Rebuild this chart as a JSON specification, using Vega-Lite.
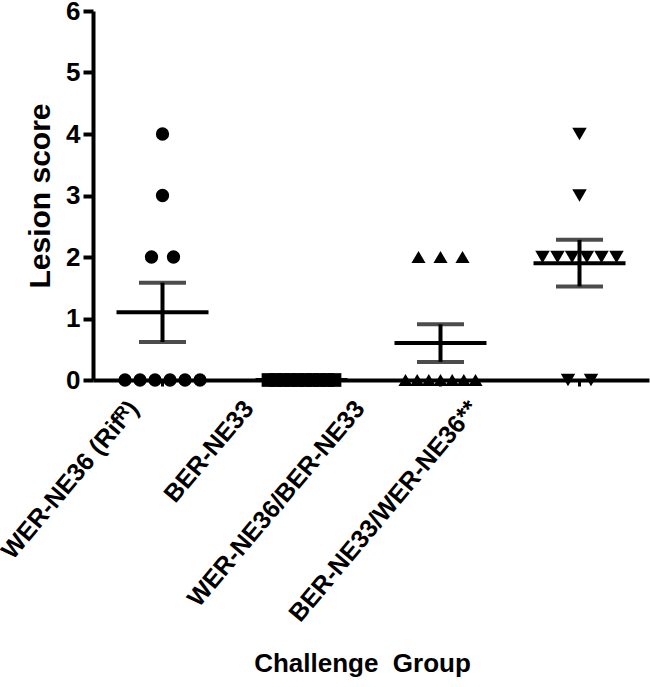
{
  "$schema": "https://vega.github.io/schema/vega-lite/v6.json",
  "autosize": {"type": "none"},
  "padding": {"left": 93, "top": 11, "right": 1, "bottom": 307},
  "width": 556,
  "height": 369,
  "background": "white",
  "config": {
    "view": {"stroke": null},
    "font": "Liberation Sans",
    "axis": {"grid": false, "domainColor": "black", "tickColor": "black", "labelColor": "black", "titleColor": "black", "labelFont": "Liberation Sans", "titleFont": "Liberation Sans", "labelFontWeight": "bold", "titleFontWeight": "bold", "labelLimit": 0}
  },
  "data": {
    "values": [
      {"group": "WER-NE36 (Rifᴿ)", "score": 4, "swarm": 0},
      {"group": "WER-NE36 (Rifᴿ)", "score": 3, "swarm": 0},
      {"group": "WER-NE36 (Rifᴿ)", "score": 2, "swarm": -11},
      {"group": "WER-NE36 (Rifᴿ)", "score": 2, "swarm": 11},
      {"group": "WER-NE36 (Rifᴿ)", "score": 0, "swarm": -37.5},
      {"group": "WER-NE36 (Rifᴿ)", "score": 0, "swarm": -22.5},
      {"group": "WER-NE36 (Rifᴿ)", "score": 0, "swarm": -7.5},
      {"group": "WER-NE36 (Rifᴿ)", "score": 0, "swarm": 7.5},
      {"group": "WER-NE36 (Rifᴿ)", "score": 0, "swarm": 22.5},
      {"group": "WER-NE36 (Rifᴿ)", "score": 0, "swarm": 37.5},
      {"group": "BER-NE33", "score": 0, "swarm": -33},
      {"group": "BER-NE33", "score": 0, "swarm": -25.7},
      {"group": "BER-NE33", "score": 0, "swarm": -18.3},
      {"group": "BER-NE33", "score": 0, "swarm": -11},
      {"group": "BER-NE33", "score": 0, "swarm": -3.7},
      {"group": "BER-NE33", "score": 0, "swarm": 3.7},
      {"group": "BER-NE33", "score": 0, "swarm": 11},
      {"group": "BER-NE33", "score": 0, "swarm": 18.3},
      {"group": "BER-NE33", "score": 0, "swarm": 25.7},
      {"group": "BER-NE33", "score": 0, "swarm": 33},
      {"group": "WER-NE36/BER-NE33", "score": 2, "swarm": -22},
      {"group": "WER-NE36/BER-NE33", "score": 2, "swarm": 0},
      {"group": "WER-NE36/BER-NE33", "score": 2, "swarm": 22},
      {"group": "WER-NE36/BER-NE33", "score": 0, "swarm": -35},
      {"group": "WER-NE36/BER-NE33", "score": 0, "swarm": -23.3},
      {"group": "WER-NE36/BER-NE33", "score": 0, "swarm": -11.7},
      {"group": "WER-NE36/BER-NE33", "score": 0, "swarm": 0},
      {"group": "WER-NE36/BER-NE33", "score": 0, "swarm": 11.7},
      {"group": "WER-NE36/BER-NE33", "score": 0, "swarm": 23.3},
      {"group": "WER-NE36/BER-NE33", "score": 0, "swarm": 35},
      {"group": "BER-NE33/WER-NE36**", "score": 4, "swarm": 0},
      {"group": "BER-NE33/WER-NE36**", "score": 3, "swarm": 0},
      {"group": "BER-NE33/WER-NE36**", "score": 2, "swarm": -37},
      {"group": "BER-NE33/WER-NE36**", "score": 2, "swarm": -22},
      {"group": "BER-NE33/WER-NE36**", "score": 2, "swarm": -7.4},
      {"group": "BER-NE33/WER-NE36**", "score": 2, "swarm": 7.4},
      {"group": "BER-NE33/WER-NE36**", "score": 2, "swarm": 22},
      {"group": "BER-NE33/WER-NE36**", "score": 2, "swarm": 37},
      {"group": "BER-NE33/WER-NE36**", "score": 0, "swarm": -11.5},
      {"group": "BER-NE33/WER-NE36**", "score": 0, "swarm": 11.5}
    ]
  },
  "encoding": {
    "x": {
      "field": "group", "type": "nominal",
      "sort": ["WER-NE36 (Rifᴿ)", "BER-NE33", "WER-NE36/BER-NE33", "BER-NE33/WER-NE36**"],
      "scale": {"paddingInner": 0, "paddingOuter": 0},
      "axis": {
        "title": "Challenge\u00a0\u00a0Group",
        "titleFontSize": 26,
        "titleX": 269,
        "titleY": 270,
        "titleAlign": "center",
        "titleBaseline": "top",
        "labelAngle": -50,
        "labelAlign": "right",
        "labelBaseline": "top",
        "labelFontSize": 25,
        "labelPadding": 10,
        "labelOffset": {
          "condition": [
            {"test": "datum.value === 'BER-NE33'", "value": -62},
            {"test": "datum.value === 'WER-NE36/BER-NE33'", "value": -90},
            {"test": "datum.value === 'BER-NE33/WER-NE36**'", "value": -115}
          ],
          "value": -38
        },
        "domainWidth": 4,
        "tickWidth": 3,
        "tickSize": 6
      }
    },
    "y": {
      "field": "score", "type": "quantitative",
      "scale": {"domain": [0, 6], "nice": false},
      "axis": {
        "title": "Lesion score",
        "titleFontSize": 30,
        "titlePadding": 10,
        "values": [0, 1, 2, 3, 4, 5, 6],
        "labelFontSize": 26,
        "labelPadding": 3,
        "domainWidth": 4,
        "tickWidth": 4,
        "tickSize": 10
      }
    }
  },
  "layer": [
    {
      "mark": {"type": "errorbar", "extent": "stderr", "color": "black", "thickness": 4, "ticks": {"size": 47, "color": "black"}, "rule": {"strokeWidth": 4, "color": "black"}},
      "encoding": {"y": {"field": "score", "type": "quantitative", "title": "Lesion score"}}
    },
    {
      "mark": {"type": "tick", "color": "black", "size": 92, "thickness": 4, "opacity": 1},
      "encoding": {"y": {"aggregate": "mean", "field": "score", "type": "quantitative", "title": "Lesion score"}}
    },
    {
      "mark": {"type": "point", "filled": true, "opacity": 1, "color": "black"},
      "encoding": {
        "xOffset": {"field": "swarm", "type": "quantitative", "scale": {"domain": [-69.5, 69.5]}},
        "shape": {
          "field": "group", "type": "nominal", "legend": null,
          "scale": {"domain": ["WER-NE36 (Rifᴿ)", "BER-NE33", "WER-NE36/BER-NE33", "BER-NE33/WER-NE36**"], "range": ["circle", "square", "triangle-up", "triangle-down"]}
        },
        "size": {
          "field": "group", "type": "nominal", "legend": null,
          "scale": {"domain": ["WER-NE36 (Rifᴿ)", "BER-NE33", "WER-NE36/BER-NE33", "BER-NE33/WER-NE36**"], "range": [177, 210, 240, 240]}
        }
      }
    }
  ]
}
